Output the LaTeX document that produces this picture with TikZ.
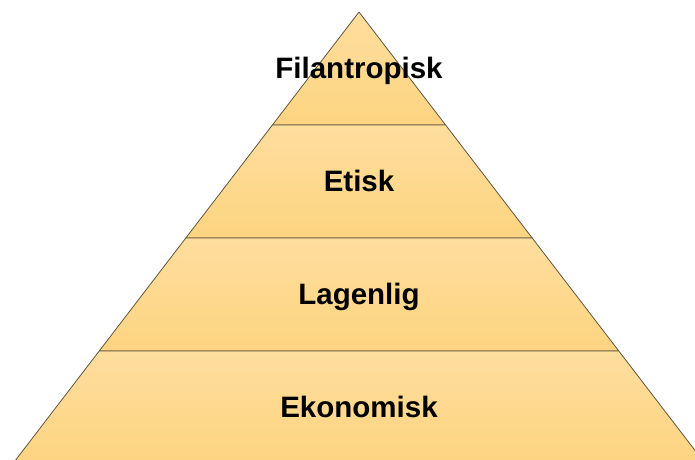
\documentclass[tikz,border=0pt]{standalone}
\usepackage{fontspec}
\setmainfont{Liberation Sans}
\usetikzlibrary{calc}

\definecolor{tiertop}{RGB}{254,222,158}
\definecolor{tierbot}{RGB}{253,212,128}
\definecolor{tieredge}{RGB}{95,85,65}

\begin{document}
\begin{tikzpicture}[x=1pt,y=-1pt,
  tier/.style={top color=tiertop,bottom color=tierbot,draw=tieredge,line width=0.8pt,line join=round},
  tiertext/.style={anchor=base,font=\fontsize{29.5}{33}\selectfont\bfseries,text=black}]
  \useasboundingbox (0,0) rectangle (695,459);
  \clip (0,0) rectangle (695,459);

  % Corners of the pyramid: each tier is 113 high and 86.6 wider on each side.
  \coordinate (apex) at (359,12);
  \foreach \i in {1,...,4}
    {\coordinate (L\i) at ({359-86.6*\i},{12+113*\i});
     \coordinate (R\i) at ({359+86.6*\i},{12+113*\i});}

  % Tiers, top to bottom.
  \draw[tier] (apex) -- (R1) -- (L1) -- cycle;
  \draw[tier] (L1) -- (R1) -- (R2) -- (L2) -- cycle;
  \draw[tier] (L2) -- (R2) -- (R3) -- (L3) -- cycle;
  \draw[tier] (L3) -- (R3) -- (R4) -- (L4) -- cycle;

  % Tier names on their baselines.
  \node[tiertext] (filantropisk) at (359,78.5) {Filantropisk};
  \node[tiertext] (etisk) at (359,191.5) {Etisk};
  \node[tiertext] (lagenlig) at (359,304.5) {Lagenlig};
  \node[tiertext] (ekonomisk) at (359,417.5) {Ekonomisk};
\end{tikzpicture}
\end{document}
